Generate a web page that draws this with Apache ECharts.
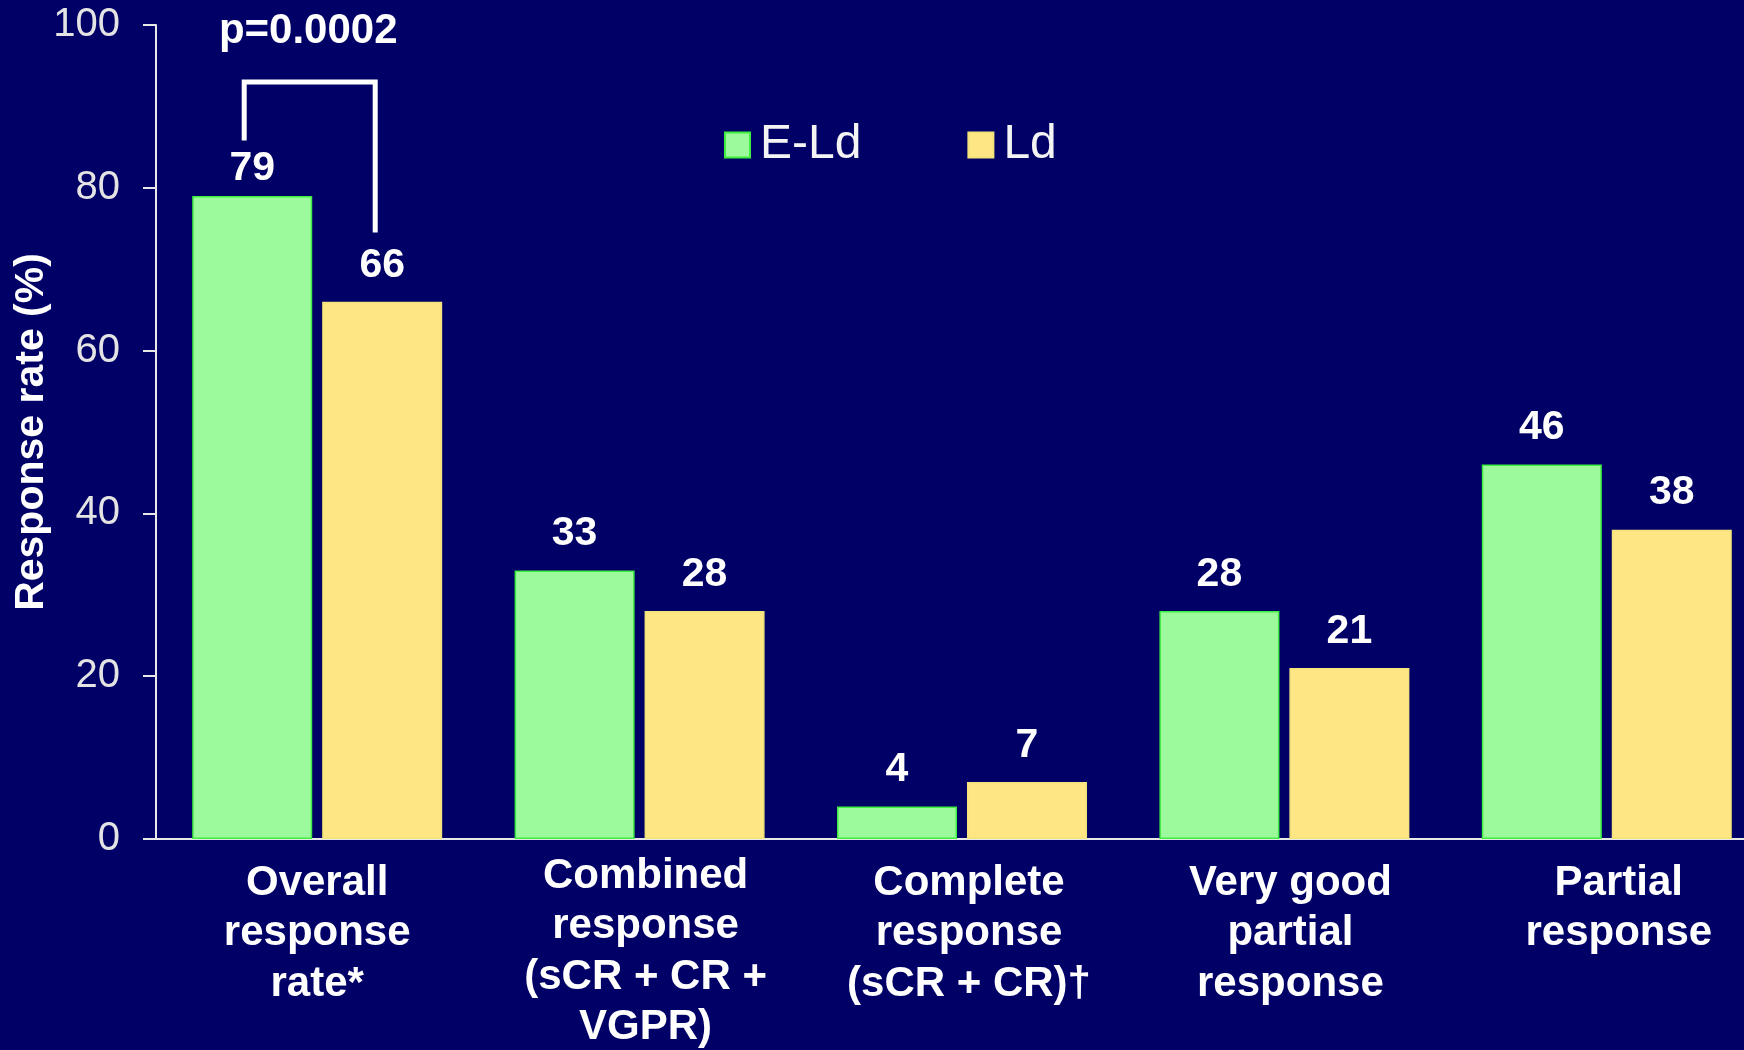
<!DOCTYPE html>
<html>
<head>
<meta charset="utf-8">
<title>Response rate by treatment arm</title>
<script src="https://cdn.jsdelivr.net/npm/echarts@6/dist/echarts.min.js"></script>
<style>
  html, body { margin: 0; padding: 0; background: #000066; overflow: hidden; }
  #chart { width: 1744px; height: 1050px; }
</style>
</head>
<body>
<div id="chart"></div>
<script>
// Response categories shown along the x axis
var categories = [
  'Overall\nresponse\nrate*',
  'Combined\nresponse\n(sCR + CR +\nVGPR)',
  'Complete\nresponse\n(sCR + CR)\u2020',
  'Very good\npartial\nresponse',
  'Partial\nresponse'
];

// Response rates (%) for each arm
var eldValues = [79, 33, 4, 28, 46];
var ldValues = [66, 28, 7, 21, 38];

var seriesNames = ['E-Ld', 'Ld'];
var yTicks = [0, 20, 40, 60, 80, 100];

// Significance bracket between the two overall-response bars
var pValueText = 'p=0.0002';
var bracketTop = 93;
var bracketLeftEnd = 85.8;
var bracketRightEnd = 74.5;

var FONT = '"Liberation Sans", Arial, Helvetica, sans-serif';

// small per-category nudges of the x-axis text blocks: [dx, dy] in px
var categoryLabelNudge = [[0, 0], [6, -7], [7, 0], [6, 0], [12, 0]];

var chart = echarts.init(document.getElementById('chart'), null, { renderer: 'canvas' });

function barLabel(distance) {
  return {
    show: true,
    position: 'top',
    distance: distance,
    color: '#ffffff',
    fontFamily: FONT,
    fontWeight: 'bold',
    fontSize: 41
  };
}

// first E-Ld label sits closer to its bar, under the bracket
var eldData = eldValues.map(function (v, i) {
  return i === 0 ? { value: v, label: { distance: 7 } } : v;
});

var categoryData = categories.map(function (c, i) {
  var n = categoryLabelNudge[i];
  return {
    value: c,
    textStyle: { padding: [n[1], 0, 0, 2 * n[0]] }
  };
});

var option = {
  backgroundColor: '#000066',
  animation: false,
  grid: {
    left: 156,
    top: 25,
    width: 1612,
    height: 814,
    containLabel: false,
    outerBoundsMode: 'none'
  },
  legend: {
    data: seriesNames,
    left: 719,
    top: 116,
    icon: 'rect',
    itemWidth: 25,
    itemHeight: 25,
    itemGap: 106,
    textStyle: {
      color: '#f4f4f4',
      fontFamily: FONT,
      fontSize: 48,
      padding: [0, 0, 0, 5]
    }
  },
  xAxis: {
    type: 'category',
    data: categoryData,
    axisLine: { show: true, lineStyle: { color: '#e8e8e8', width: 2 } },
    axisTick: { show: false },
    axisLabel: {
      interval: 0,
      margin: 19,
      color: '#ffffff',
      fontFamily: FONT,
      fontWeight: 'bold',
      fontSize: 42,
      lineHeight: 50.5,
      verticalAlign: 'top'
    }
  },
  yAxis: {
    type: 'value',
    min: yTicks[0],
    max: yTicks[yTicks.length - 1],
    interval: yTicks[1] - yTicks[0],
    name: 'Response rate (%)',
    nameLocation: 'middle',
    nameGap: 104,
    nameMoveOverlap: false,
    nameTextStyle: {
      color: '#ffffff',
      fontFamily: FONT,
      fontWeight: 'bold',
      fontSize: 41
    },
    axisLine: { show: true, lineStyle: { color: '#e8e8e8', width: 2 } },
    axisTick: { show: true, length: 13, lineStyle: { color: '#e8e8e8', width: 2 } },
    axisLabel: {
      margin: 36,
      color: '#e4e4e4',
      fontFamily: FONT,
      fontSize: 40
    },
    splitLine: { show: false }
  },
  series: [
    {
      name: seriesNames[0],
      type: 'bar',
      data: eldData,
      barWidth: 120,
      barGap: '8.3%',
      itemStyle: {
        color: '#9cfa9c',
        borderColor: '#3fee3f',
        borderWidth: 1.5
      },
      label: barLabel(16)
    },
    {
      name: seriesNames[1],
      type: 'bar',
      data: ldValues,
      barWidth: 120,
      barGap: '8.3%',
      itemStyle: {
        color: '#fde683',
        borderColor: '#f3e37a',
        borderWidth: 1.5
      },
      label: barLabel(16)
    },
    {
      type: 'custom',
      silent: true,
      clip: false,
      z: 5,
      data: [[0, bracketTop]],
      renderItem: function (params, api) {
        var center = api.coord([0, bracketTop]);
        var cx = center[0];
        var yTop = center[1];
        var yL = api.coord([0, bracketLeftEnd])[1];
        var yR = api.coord([0, bracketRightEnd])[1];
        var yText = api.coord([0, 100])[1] + 6;
        var lx = cx - 73;
        var rx = cx + 58;
        return {
          type: 'group',
          children: [
            {
              type: 'polyline',
              shape: { points: [[lx, yL], [lx, yTop], [rx, yTop], [rx, yR]] },
              style: { stroke: '#ffffff', lineWidth: 5, fill: null, lineJoin: 'miter' }
            },
            {
              type: 'text',
              style: {
                text: pValueText,
                x: cx - 9,
                y: yText,
                align: 'center',
                verticalAlign: 'middle',
                fill: '#ffffff',
                font: 'bold 42px ' + FONT
              }
            }
          ]
        };
      }
    }
  ]
};

chart.setOption(option);
</script>
</body>
</html>
